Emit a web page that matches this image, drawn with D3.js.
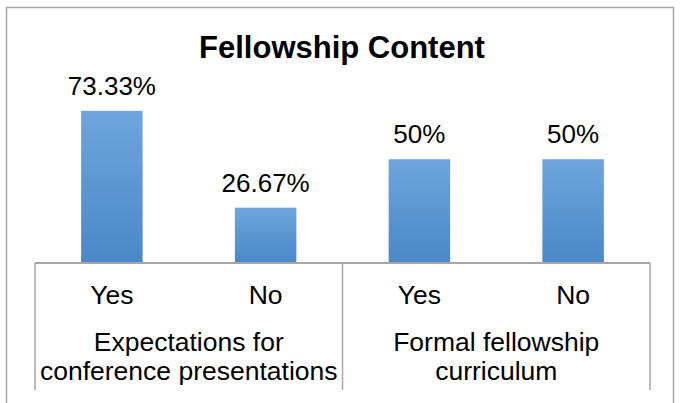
<!DOCTYPE html>
<html>
<head>
<meta charset="utf-8">
<script src="https://cdn.jsdelivr.net/npm/d3@7"></script>
<style>
  body { margin: 0; background: #fff; }
  svg { display: block; font-family: Arial, "Liberation Sans", sans-serif; }
</style>
</head>
<body>
<script>
// chart data
const groups = ["Expectations for|conference presentations", "Formal fellowship|curriculum"];
const answers = ["Yes", "No", "Yes", "No"];
const groupOf = [0, 0, 1, 1];
const values = [73.33, 26.67, 50, 50];
const valueLabels = ["73.33%", "26.67%", "50%", "50%"];

const width = 680, height = 403;
const left = 35, right = 650, baseY = 263, topY = 97;

const svg = d3.select("body").append("svg")
    .attr("width", width)
    .attr("height", height);

const defs = svg.append("defs");
const grad = defs.append("linearGradient")
    .attr("id", "barGrad")
    .attr("x1", 0).attr("y1", 0).attr("x2", 0).attr("y2", 1);
grad.append("stop").attr("offset", "0%").attr("stop-color", "#6fa5dc");
grad.append("stop").attr("offset", "100%").attr("stop-color", "#4988c8");

// outer chart border
svg.append("rect")
    .attr("x", 6.5).attr("y", 7.5)
    .attr("width", 667).attr("height", 400)
    .attr("fill", "none")
    .attr("stroke", "#a6a6a6")
    .attr("stroke-width", 1.5);

// title
svg.append("text")
    .attr("x", 342)
    .attr("y", 58)
    .attr("text-anchor", "middle")
    .attr("font-size", "31px")
    .attr("font-weight", "bold")
    .text("Fellowship Content");

const idx = d3.range(values.length);

const x = d3.scaleBand()
    .domain(idx)
    .range([left, right])
    .paddingInner(0.6)
    .paddingOuter(0.3);

const y = d3.scaleLinear()
    .domain([0, 80])
    .range([baseY, topY]);

// bars
svg.append("g")
    .selectAll("rect")
    .data(idx)
    .join("rect")
    .attr("x", i => x(i))
    .attr("y", i => y(values[i]))
    .attr("width", x.bandwidth())
    .attr("height", i => y(0) - y(values[i]))
    .attr("fill", "url(#barGrad)");

// value labels
svg.append("g")
    .selectAll("text")
    .data(idx)
    .join("text")
    .attr("x", i => x(i) + x.bandwidth() / 2)
    .attr("y", i => y(values[i]) - 16)
    .attr("text-anchor", "middle")
    .attr("font-size", "26px")
    .attr("fill", "#000")
    .text(i => valueLabels[i]);

// category axis line
svg.append("line")
    .attr("x1", left).attr("x2", right)
    .attr("y1", baseY).attr("y2", baseY)
    .attr("stroke", "#a6a6a6")
    .attr("stroke-width", 2);

// group separators
const step = x.step();
const sepX = [left, left + 2 * step, right];
svg.append("g")
    .selectAll("line")
    .data(sepX)
    .join("line")
    .attr("x1", d => d).attr("x2", d => d)
    .attr("y1", baseY).attr("y2", 390)
    .attr("stroke", "#a6a6a6")
    .attr("stroke-width", 1.5);

// inner category labels
svg.append("g")
    .selectAll("text")
    .data(idx)
    .join("text")
    .attr("x", i => x(i) + x.bandwidth() / 2)
    .attr("y", 304)
    .attr("text-anchor", "middle")
    .attr("font-size", "26.5px")
    .text(i => answers[i]);

// outer group labels
const gl = svg.append("g")
    .selectAll("text")
    .data(groups)
    .join("text")
    .attr("x", (d, g) => (sepX[g] + sepX[g + 1]) / 2)
    .attr("y", 351)
    .attr("text-anchor", "middle")
    .attr("font-size", "26.5px");
gl.each(function (d) {
    const t = d3.select(this);
    d.split("|").forEach((line, k) => {
        t.append("tspan")
            .attr("x", t.attr("x"))
            .attr("dy", k === 0 ? 0 : 29)
            .text(line);
    });
});
</script>
</body>
</html>
